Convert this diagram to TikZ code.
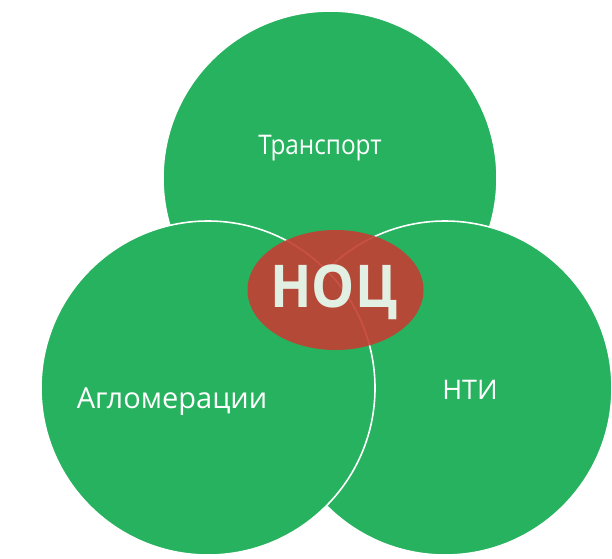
\documentclass[tikz,border=0pt]{standalone}
\usepackage{fontspec}
\usetikzlibrary{shapes.geometric}
\setmainfont{Open Sans}
\definecolor{vgreen}{RGB}{38,178,94}
\definecolor{vred}{RGB}{197,62,52}
\definecolor{vtext}{RGB}{226,240,228}
\begin{document}
\begin{tikzpicture}[x=1pt,y=-1pt,
  setcircle/.style={circle,fill=vgreen,draw=white,line width=1.6pt,minimum size=334pt,inner sep=0pt},
  lbl/.style={text=white,anchor=base,inner sep=0pt}]
\useasboundingbox (0,0) rectangle (612,558);
\fill[white] (0,0) rectangle (612,558);
\node[setcircle] (top) at (330,178) {};
\node[setcircle] (right) at (445,388) {};
\node[setcircle] (left) at (208,388) {};
\node[ellipse,fill=vred,fill opacity=0.9,minimum width=176pt,minimum height=120pt,inner sep=0pt] (noc) at (335.5,290) {};
\node[text=vtext,anchor=base,xscale=0.92,font=\bfseries\fontsize{59}{60}\selectfont,inner sep=0pt] (noctext) at (334,307) {НОЦ};
\node[lbl,xscale=0.9,font=\fontsize{27}{30}\selectfont] (tr) at (320,154) {Транспорт};
\node[lbl,font=\fontsize{29}{32}\selectfont] (ag) at (172,408) {Агломерации};
\node[lbl,font=\fontsize{27}{30}\selectfont] (nti) at (470,399) {НТИ};
\end{tikzpicture}
\end{document}
